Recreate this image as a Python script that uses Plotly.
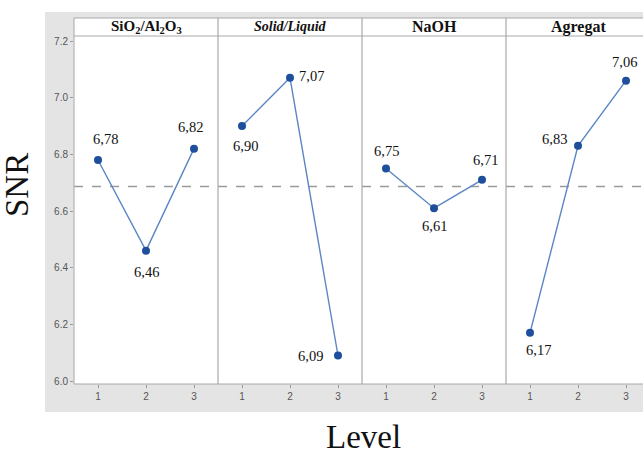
import plotly.graph_objects as go

factors = ["SiO<sub>2</sub>/Al<sub>2</sub>O<sub>3</sub>", "<i>Solid/Liquid</i>", "NaOH", "Agregat"]
levels = [1, 2, 3]
snr_sio2 = [6.78, 6.46, 6.82]
snr_solid = [6.90, 7.07, 6.09]
snr_naoh = [6.75, 6.61, 6.71]
snr_agregat = [6.17, 6.83, 7.06]
series = [snr_sio2, snr_solid, snr_naoh, snr_agregat]
y_ticks = [6.0, 6.2, 6.4, 6.6, 6.8, 7.0, 7.2]

# label offsets in pixels (dx, dy) for each point
label_offsets = [
    [(7, 21), (0, -21), (-4, 22)],
    [(3, -20), (21, 2), (-28, 0)],
    [(0, 18), (0, -18), (3, 20)],
    [(8, -17), (-24, 7), (-2, 19)],
]
header_sizes = [15, 14, 16, 16]

W, H = 643, 456
L, T, B = 74, 36, 72
pw = W - L
ph = H - T - B
edges = [74, 218, 362, 506, 643]
domains = [[(edges[i] - L) / pw, (edges[i + 1] - L) / pw] for i in range(4)]
ranges = [[0.5, 3.5], [0.5, 3.5], [0.5, 3.5], [0.5, 0.5 + (643 - 506) / 48.0]]

def py(pix):
    return (H - B - pix) / ph

def px(pix):
    return (pix - L) / pw

fig = go.Figure()
line_col = "#5a86c5"
mark_col = "#1d4f9c"
grey = "#a8a8a8"

annotations = []
for i, vals in enumerate(series):
    xa = "x" if i == 0 else f"x{i+1}"
    fig.add_trace(go.Scatter(
        x=levels, y=vals, xaxis=xa, yaxis="y", mode="lines+markers",
        line=dict(color=line_col, width=1.4),
        marker=dict(color=mark_col, size=8),
        hoverinfo="x+y", showlegend=False, cliponaxis=False))
    for j, v in enumerate(vals):
        dx, dy = label_offsets[i][j]
        annotations.append(dict(
            x=levels[j], y=v, xref=xa, yref="y", text=f"{v:.2f}".replace(".", ","),
            showarrow=False, xshift=dx, yshift=dy, xanchor="center", yanchor="middle",
            font=dict(family="Liberation Serif", size=14.5, color="#111")))
    # header text
    cx = (domains[i][0] + domains[i][1]) / 2 if i < 3 else (domains[i][0] + px(650)) / 2
    annotations.append(dict(
        x=cx, y=py(27), xref="paper", yref="paper", text=f"<b>{factors[i]}</b>",
        showarrow=False, xanchor="center", yanchor="middle",
        font=dict(family="Liberation Serif", size=header_sizes[i], color="#111")))

mean_val = sum(snr_sio2) / 3

shapes = [
    # grey background panel
    dict(type="rect", xref="paper", yref="paper", x0=px(45), x1=1.0, y0=py(412), y1=py(12),
         fillcolor="#e4e4e4", line=dict(width=0), layer="below"),
    # white plot area + header strip
    dict(type="rect", xref="paper", yref="paper", x0=0, x1=1.0, y0=0, y1=py(18),
         fillcolor="white", line=dict(width=0), layer="below"),
    # mean dashed line
    dict(type="line", xref="paper", yref="y", x0=0, x1=1, y0=mean_val, y1=mean_val,
         line=dict(color="#9a9a9a", width=1.5, dash="dash"), layer="below"),
]
# frame lines (left, bottom, header top, header bottom)
for (x0, y0, x1, y1) in [(0, 0, 0, py(18)), (0, 0, 1, 0), (0, py(18), 1, py(18)), (0, 1, 1, 1)]:
    shapes.append(dict(type="line", xref="paper", yref="paper", x0=x0, y0=y0, x1=x1, y1=y1,
                       line=dict(color=grey, width=1)))
for e in edges[1:4]:
    shapes.append(dict(type="line", xref="paper", yref="paper", x0=px(e), x1=px(e),
                       y0=0, y1=py(18), line=dict(color=grey, width=1.2)))

annotations.append(dict(x=px(17), y=py(185), xref="paper", yref="paper", text="SNR",
                        textangle=-90, showarrow=False, xanchor="center", yanchor="middle",
                        font=dict(family="Liberation Serif", size=33, color="#111")))
annotations.append(dict(x=px(363), y=py(437), xref="paper", yref="paper", text="Level",
                        showarrow=False, xanchor="center", yanchor="middle",
                        font=dict(family="Liberation Serif", size=33, color="#111")))

tickfont = dict(family="Liberation Sans", size=10, color="#555")
layout = dict(
    width=W, height=H, margin=dict(l=L, r=0, t=T, b=B),
    paper_bgcolor="white", plot_bgcolor="rgba(0,0,0,0)",
    shapes=shapes, annotations=annotations,
    yaxis=dict(range=[6 - 3 / 283, 7.2 + 5 / 283], tickvals=y_ticks,
               ticktext=[f"{t:.1f}" for t in y_ticks],
               ticks="outside", ticklen=3, tickcolor="#999", tickfont=tickfont,
               showgrid=False, zeroline=False, showline=False, anchor="x"),
)
for i in range(4):
    key = "xaxis" if i == 0 else f"xaxis{i+1}"
    layout[key] = dict(domain=domains[i], range=ranges[i], tickvals=levels,
                       ticks="outside", ticklen=3, tickcolor="#999", tickfont=tickfont,
                       showgrid=False, zeroline=False, showline=False, anchor="y")
fig.update_layout(**layout)
fig.write_html("out.html", config={"displayModeBar": False},
               post_script="document.body.style.margin='0';document.body.style.overflow='hidden';")
